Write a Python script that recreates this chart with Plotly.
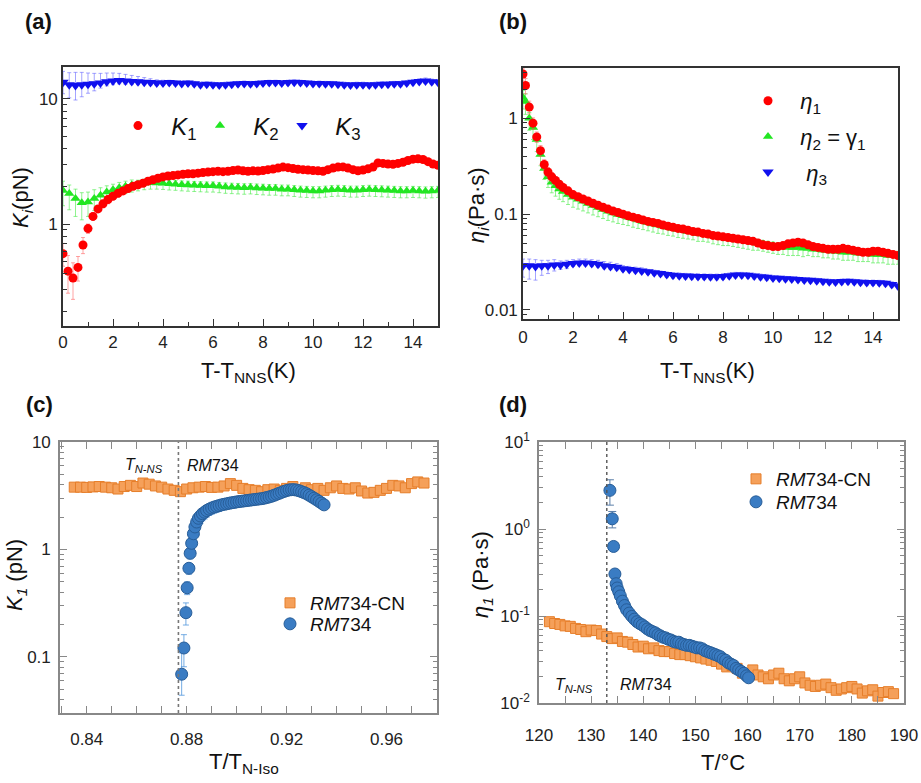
import plotly.graph_objects as go

W, H = 921, 783
FONT = "Liberation Sans, Arial, sans-serif"

# ---------------- Panel (a): elastic constants vs T - T_NNS ----------------
XA1 = [0.0, 0.2, 0.4, 0.6, 0.8, 1.0, 1.2, 1.4, 1.6, 1.8,
       2.0, 2.2, 2.4, 2.6, 2.8, 3.0, 3.2, 3.4, 3.6, 3.8,
       4.0, 4.2, 4.4, 4.6, 4.8, 5.0, 5.2, 5.4, 5.6, 5.8,
       6.0, 6.2, 6.4, 6.6, 6.8, 7.0, 7.2, 7.4, 7.6, 7.8,
       8.0, 8.2, 8.4, 8.6, 8.8, 9.0, 9.2, 9.4, 9.6, 9.8,
       10.0, 10.2, 10.4, 10.6, 10.8, 11.0, 11.2, 11.4, 11.6, 11.8,
       12.0, 12.2, 12.4, 12.6, 12.8, 13.0, 13.2, 13.4, 13.6, 13.8,
       14.0, 14.2, 14.4, 14.6, 14.8, 15.0]
K1 = [0.58, 0.42, 0.37, 0.45, 0.68, 0.92, 1.15, 1.32, 1.45, 1.57,
      1.67, 1.76, 1.84, 1.92, 2.0, 2.06, 2.12, 2.2, 2.26, 2.32,
      2.38, 2.42, 2.44, 2.47, 2.5, 2.52, 2.52, 2.55, 2.58, 2.6,
      2.62, 2.64, 2.62, 2.64, 2.68, 2.7, 2.66, 2.64, 2.66, 2.65,
      2.68, 2.72, 2.75, 2.8, 2.85, 2.82, 2.78, 2.74, 2.72, 2.7,
      2.68, 2.66, 2.64, 2.72, 2.8, 2.85, 2.86, 2.8, 2.72, 2.66,
      2.7, 2.76, 2.85, 3.08, 3.05, 3.02, 3.0, 3.05, 3.12, 3.22,
      3.3, 3.32, 3.28, 3.15, 3.02, 2.95]
K1_ERR = [0.12, 0.14, 0.12, 0.1, 0.1, 0.08, 0.08, 0.08, 0.1, 0.12,
          0.12, 0.12, 0.12, 0.12, 0.12, 0.12, 0.1, 0.1, 0.1, 0.08,
          0.08, 0.08, 0.08, 0.08, 0.08, 0.08, 0.08, 0.08, 0.08, 0.08,
          0.08, 0.08, 0.08, 0.08, 0.08, 0.08, 0.08, 0.08, 0.08, 0.08,
          0.08, 0.08, 0.08, 0.08, 0.08, 0.08, 0.08, 0.08, 0.08, 0.08,
          0.08, 0.08, 0.08, 0.08, 0.08, 0.08, 0.08, 0.08, 0.08, 0.08,
          0.08, 0.08, 0.08, 0.1, 0.1, 0.1, 0.1, 0.1, 0.1, 0.1,
          0.12, 0.12, 0.12, 0.12, 0.12, 0.12]

XQ = [0.0, 0.25, 0.5, 0.75, 1.0, 1.25, 1.5, 1.75, 2.0, 2.25,
      2.5, 2.75, 3.0, 3.25, 3.5, 3.75, 4.0, 4.25, 4.5, 4.75,
      5.0, 5.25, 5.5, 5.75, 6.0, 6.25, 6.5, 6.75, 7.0, 7.25,
      7.5, 7.75, 8.0, 8.25, 8.5, 8.75, 9.0, 9.25, 9.5, 9.75,
      10.0, 10.25, 10.5, 10.75, 11.0, 11.25, 11.5, 11.75, 12.0, 12.25,
      12.5, 12.75, 13.0, 13.25, 13.5, 13.75, 14.0, 14.25, 14.5, 14.75,
      15.0]
K2 = [1.85, 1.75, 1.6, 1.48, 1.5, 1.6, 1.7, 1.8, 1.88, 1.95,
      2.0, 2.05, 2.08, 2.12, 2.14, 2.13, 2.12, 2.1, 2.08, 2.06,
      2.05, 2.04, 2.03, 2.02, 2.02, 2.0, 1.98, 1.97, 1.96, 1.95,
      1.96, 1.94, 1.93, 1.92, 1.92, 1.9, 1.9, 1.88, 1.86, 1.85,
      1.84, 1.84, 1.86, 1.88, 1.89, 1.88, 1.86, 1.86, 1.88, 1.89,
      1.88, 1.87, 1.86, 1.85, 1.84, 1.84, 1.85, 1.84, 1.83, 1.84,
      1.85]
K2_ERR_UP = [0.35, 0.3, 0.3, 0.3, 0.3, 0.28, 0.25, 0.22, 0.2, 0.2,
             0.2, 0.2, 0.16, 0.16, 0.16, 0.16, 0.15, 0.15, 0.15, 0.15,
             0.15, 0.15, 0.15, 0.15, 0.15, 0.15, 0.15, 0.15, 0.15, 0.15,
             0.15, 0.15, 0.15, 0.15, 0.15, 0.15, 0.15, 0.15, 0.15, 0.15,
             0.15, 0.15, 0.15, 0.15, 0.15, 0.15, 0.15, 0.15, 0.15, 0.15,
             0.15, 0.15, 0.15, 0.15, 0.15, 0.15, 0.15, 0.15, 0.15, 0.15,
             0.15]
K2_ERR_DN = [0.45, 0.45, 0.45, 0.4, 0.35, 0.32, 0.3, 0.28, 0.26, 0.25,
             0.25, 0.25, 0.24, 0.24, 0.24, 0.23, 0.23, 0.23, 0.22, 0.22,
             0.22, 0.22, 0.22, 0.22, 0.22, 0.22, 0.22, 0.22, 0.22, 0.22,
             0.22, 0.22, 0.22, 0.22, 0.22, 0.22, 0.22, 0.22, 0.22, 0.22,
             0.22, 0.22, 0.22, 0.22, 0.22, 0.22, 0.22, 0.22, 0.22, 0.22,
             0.22, 0.22, 0.22, 0.22, 0.22, 0.22, 0.22, 0.22, 0.22, 0.22,
             0.22]
K3 = [13.6, 13.0, 12.8, 13.0, 13.1, 13.2, 13.4, 13.7, 13.9, 14.0,
      13.9, 13.8, 13.7, 13.6, 13.5, 13.4, 13.4, 13.5, 13.4, 13.3,
      13.4, 13.2, 13.0, 13.1, 13.0, 12.9, 13.0, 13.1, 13.2, 13.3,
      13.2, 13.3, 13.4, 13.5, 13.5, 13.4, 13.5, 13.6, 13.5, 13.4,
      13.3, 13.3, 13.2, 13.2, 13.1, 13.0, 12.9, 13.0, 13.0, 12.9,
      13.0, 13.1, 13.1, 13.2, 13.2, 13.4, 13.6, 13.8, 13.9, 13.7,
      13.6]
K3_ERR_UP = [3.0, 3.2, 3.5, 3.3, 3.0, 2.8, 2.6, 2.4, 2.2, 2.0,
             1.8, 1.6, 1.4, 1.2, 1.0, 0.8, 0.7, 0.6, 0.6, 0.6,
             0.6, 0.6, 0.6, 0.6, 0.6, 0.6, 0.6, 0.6, 0.6, 0.6,
             0.6, 0.6, 0.6, 0.6, 0.6, 0.6, 0.6, 0.6, 0.6, 0.6,
             0.6, 0.6, 0.6, 0.6, 0.6, 0.6, 0.6, 0.6, 0.6, 0.6,
             0.6, 0.6, 0.6, 0.6, 0.6, 0.6, 0.7, 0.7, 0.8, 0.7,
             0.7]
K3_ERR_DN = [2.6, 2.8, 3.0, 2.6, 2.0, 1.6, 1.2, 1.0, 0.9, 0.8,
             0.8, 0.7, 0.7, 0.6, 0.6, 0.6, 0.6, 0.6, 0.6, 0.6,
             0.6, 0.6, 0.6, 0.6, 0.6, 0.6, 0.6, 0.6, 0.6, 0.6,
             0.6, 0.6, 0.6, 0.6, 0.6, 0.6, 0.6, 0.6, 0.6, 0.6,
             0.6, 0.6, 0.6, 0.6, 0.6, 0.6, 0.6, 0.6, 0.6, 0.6,
             0.6, 0.6, 0.6, 0.6, 0.6, 0.6, 0.6, 0.6, 0.6, 0.6,
             0.6]

# ---------------- Panel (b): viscosities vs T - T_NNS ----------------
XB1 = [0.0, 0.1, 0.25, 0.4, 0.55, 0.7, 0.85, 1.0, 1.15, 1.3,
       1.45, 1.6, 1.8, 2.0, 2.2, 2.4, 2.6, 2.8, 3.0, 3.2,
       3.4, 3.6, 3.8, 4.0, 4.2, 4.4, 4.6, 4.8, 5.0, 5.2,
       5.4, 5.6, 5.8, 6.0, 6.2, 6.4, 6.6, 6.8, 7.0, 7.2,
       7.4, 7.6, 7.8, 8.0, 8.2, 8.4, 8.6, 8.8, 9.0, 9.2,
       9.4, 9.6, 9.8, 10.0, 10.2, 10.4, 10.6, 10.8, 11.0, 11.2,
       11.4, 11.6, 11.8, 12.0, 12.2, 12.4, 12.6, 12.8, 13.0, 13.2,
       13.4, 13.6, 13.8, 14.0, 14.2, 14.4, 14.6, 14.8, 15.0]
ETA1 = [2.9, 2.2, 1.31, 0.89, 0.64, 0.46, 0.33, 0.275, 0.245, 0.225,
        0.205, 0.19, 0.175, 0.16, 0.152, 0.144, 0.137, 0.13, 0.124, 0.118,
        0.113, 0.108, 0.104, 0.1, 0.096, 0.093, 0.09, 0.087, 0.084, 0.082,
        0.08, 0.077, 0.075, 0.073, 0.071, 0.07, 0.068, 0.066, 0.065, 0.063,
        0.062, 0.06, 0.059, 0.058, 0.057, 0.056, 0.055, 0.054, 0.053, 0.052,
        0.05, 0.048, 0.047, 0.046, 0.046, 0.047, 0.049, 0.05, 0.051, 0.05,
        0.048, 0.046, 0.045, 0.044, 0.043, 0.043, 0.043, 0.044, 0.043, 0.042,
        0.041, 0.04, 0.04, 0.041, 0.041, 0.04, 0.039, 0.038, 0.037]
ETA1_ERR = [0.45, 0.4, 0.2, 0.12, 0.08, 0.06, 0.04, 0.03, 0.025, 0.02,
            0.018, 0.016, 0.014, 0.012, 0.011, 0.01, 0.009, 0.008, 0.008, 0.007,
            0.007, 0.006, 0.006, 0.006, 0.005, 0.005, 0.005, 0.005, 0.005, 0.004,
            0.004, 0.004, 0.004, 0.004, 0.004, 0.004, 0.004, 0.004, 0.004, 0.004,
            0.003, 0.003, 0.003, 0.003, 0.003, 0.003, 0.003, 0.003, 0.003, 0.003,
            0.003, 0.003, 0.003, 0.003, 0.003, 0.003, 0.003, 0.003, 0.003, 0.003,
            0.003, 0.003, 0.003, 0.003, 0.003, 0.003, 0.003, 0.003, 0.003, 0.003,
            0.003, 0.003, 0.003, 0.003, 0.003, 0.003, 0.003, 0.003, 0.003]
ETA2 = [1.65, 1.5, 1.0, 0.8, 0.6, 0.42, 0.3, 0.245, 0.215, 0.198,
        0.183, 0.172, 0.16, 0.15, 0.143, 0.136, 0.129, 0.123, 0.117, 0.112,
        0.107, 0.103, 0.099, 0.096, 0.093, 0.09, 0.087, 0.084, 0.082, 0.079,
        0.077, 0.075, 0.073, 0.071, 0.069, 0.068, 0.066, 0.065, 0.063, 0.062,
        0.061, 0.059, 0.058, 0.057, 0.056, 0.055, 0.054, 0.053, 0.052, 0.051,
        0.05, 0.049, 0.048, 0.047, 0.046, 0.046, 0.045, 0.045, 0.045, 0.044,
        0.044, 0.043, 0.043, 0.042, 0.042, 0.041, 0.041, 0.04, 0.04, 0.04,
        0.039, 0.039, 0.039, 0.038, 0.038, 0.038, 0.037, 0.037, 0.037]
ETA2_ERR_UP = [0.3, 0.3, 0.15, 0.1, 0.07, 0.05, 0.035, 0.028, 0.024, 0.021,
               0.019, 0.017, 0.015, 0.013, 0.012, 0.011, 0.01, 0.01, 0.009, 0.009,
               0.008, 0.008, 0.008, 0.007, 0.007, 0.007, 0.006, 0.006, 0.006, 0.006,
               0.006, 0.005, 0.005, 0.005, 0.005, 0.005, 0.005, 0.005, 0.005, 0.005,
               0.005, 0.005, 0.005, 0.004, 0.004, 0.004, 0.004, 0.004, 0.004, 0.004,
               0.004, 0.004, 0.004, 0.004, 0.004, 0.004, 0.004, 0.004, 0.004, 0.004,
               0.004, 0.004, 0.004, 0.004, 0.004, 0.004, 0.004, 0.004, 0.004, 0.004,
               0.004, 0.004, 0.004, 0.004, 0.004, 0.004, 0.004, 0.004, 0.004]
ETA2_ERR_DN = [0.4, 0.4, 0.25, 0.2, 0.15, 0.1, 0.07, 0.055, 0.048, 0.044,
               0.04, 0.037, 0.034, 0.032, 0.03, 0.028, 0.026, 0.025, 0.023, 0.022,
               0.021, 0.02, 0.019, 0.018, 0.017, 0.017, 0.016, 0.015, 0.015, 0.014,
               0.014, 0.013, 0.013, 0.012, 0.012, 0.012, 0.011, 0.011, 0.011, 0.01,
               0.01, 0.01, 0.01, 0.01, 0.009, 0.009, 0.009, 0.009, 0.009, 0.009,
               0.008, 0.008, 0.008, 0.008, 0.008, 0.008, 0.008, 0.008, 0.008, 0.008,
               0.007, 0.007, 0.007, 0.007, 0.007, 0.007, 0.007, 0.007, 0.007, 0.007,
               0.007, 0.007, 0.007, 0.007, 0.007, 0.007, 0.007, 0.007, 0.007]
ETA3 = [0.029, 0.029, 0.0285, 0.029, 0.029, 0.0295, 0.0295, 0.03, 0.0305, 0.031,
        0.031, 0.0305, 0.03, 0.029, 0.0285, 0.028, 0.027, 0.0265, 0.026, 0.0255,
        0.025, 0.0245, 0.024, 0.0235, 0.023, 0.0228, 0.0226, 0.0225, 0.0224, 0.0223,
        0.0222, 0.0222, 0.0224, 0.0228, 0.0232, 0.0232, 0.023, 0.0226, 0.0222, 0.022,
        0.0216, 0.0214, 0.0212, 0.021, 0.0208, 0.0206, 0.0204, 0.0202, 0.0199, 0.0197,
        0.0196, 0.0198, 0.0199, 0.0197, 0.0195, 0.0194, 0.0193, 0.0192, 0.019, 0.0185,
        0.0178]
ETA3_ERR_UP = [0.005, 0.005, 0.005, 0.004, 0.004, 0.004, 0.003, 0.003, 0.003, 0.003,
               0.003, 0.003, 0.003, 0.003, 0.003, 0.0025, 0.002, 0.002, 0.002, 0.002,
               0.0015, 0.0015, 0.0015, 0.0015, 0.0015, 0.0015, 0.0015, 0.0015, 0.0015, 0.0015,
               0.0015, 0.0015, 0.0015, 0.0015, 0.0015, 0.0015, 0.0015, 0.0015, 0.0015, 0.0015,
               0.0012, 0.0012, 0.0012, 0.0012, 0.0012, 0.0012, 0.0012, 0.0012, 0.0012, 0.0012,
               0.0012, 0.0012, 0.0012, 0.0012, 0.0012, 0.0012, 0.0012, 0.0012, 0.0012, 0.0012,
               0.0012]
ETA3_ERR_DN = [0.007, 0.008, 0.008, 0.006, 0.005, 0.004, 0.003, 0.003, 0.002, 0.002,
               0.002, 0.002, 0.002, 0.002, 0.002, 0.0018, 0.0016, 0.0015, 0.0015, 0.0015,
               0.0015, 0.0015, 0.0015, 0.0015, 0.0015, 0.0015, 0.0015, 0.0015, 0.0015, 0.0015,
               0.0015, 0.0015, 0.0015, 0.0015, 0.0015, 0.0015, 0.0015, 0.0015, 0.0015, 0.0015,
               0.0012, 0.0012, 0.0012, 0.0012, 0.0012, 0.0012, 0.0012, 0.0012, 0.0012, 0.0012,
               0.0012, 0.0012, 0.0012, 0.0012, 0.0012, 0.0012, 0.0012, 0.0012, 0.0012, 0.0012,
               0.0012]

# ---------------- Panel (c): K1 vs reduced temperature ----------------
XC_CN = [0.835, 0.8375, 0.84, 0.8425, 0.845, 0.8475, 0.85, 0.8525, 0.855, 0.8575,
         0.86, 0.8625, 0.865, 0.8675, 0.87, 0.8725, 0.875, 0.8775, 0.88, 0.8825,
         0.885, 0.8875, 0.89, 0.8925, 0.895, 0.8975, 0.9, 0.9025, 0.905, 0.9075,
         0.91, 0.9125, 0.915, 0.9175, 0.92, 0.9225, 0.925, 0.9275, 0.93, 0.9325,
         0.935, 0.9375, 0.94, 0.9425, 0.945, 0.9475, 0.95, 0.9525, 0.955, 0.9575,
         0.96, 0.9625, 0.965, 0.9675, 0.97, 0.9725, 0.975]
K1_CN = [3.8, 3.8, 3.78, 3.82, 3.85, 3.8, 3.75, 3.65, 3.85, 3.95,
         3.85, 4.15, 4.05, 3.9, 3.8, 3.65, 3.55, 3.45, 3.65, 3.75,
         3.8, 3.85, 3.78, 3.8, 3.9, 4.1, 3.95, 3.7, 3.6, 3.55,
         3.45, 3.6, 3.65, 3.55, 3.7, 3.85, 3.6, 3.75, 3.6, 3.7,
         3.55, 3.75, 3.9, 3.7, 3.65, 3.75, 3.5, 3.35, 3.4, 3.55,
         3.7, 3.95, 3.9, 3.75, 4.1, 4.25, 4.15]
XC_RM = [0.878, 0.8789, 0.8797, 0.8802, 0.8809, 0.8814, 0.882, 0.8827, 0.8833, 0.884,
         0.8847, 0.8855, 0.8863, 0.8872, 0.888, 0.889, 0.89, 0.891, 0.892, 0.893,
         0.894, 0.895, 0.896, 0.897, 0.898, 0.899, 0.9, 0.901, 0.902, 0.903,
         0.904, 0.905, 0.906, 0.907, 0.908, 0.909, 0.91, 0.911, 0.912, 0.913,
         0.914, 0.915, 0.916, 0.917, 0.918, 0.919, 0.92, 0.921, 0.922, 0.923,
         0.924, 0.925, 0.926, 0.927, 0.928, 0.929, 0.93, 0.931, 0.932, 0.933,
         0.934, 0.935]
K1_RM = [0.069, 0.121, 0.258, 0.44, 0.668, 0.92, 1.14, 1.40, 1.62, 1.8,
         1.95, 2.05, 2.15, 2.22, 2.3, 2.37, 2.43, 2.48, 2.52, 2.56,
         2.6, 2.63, 2.66, 2.69, 2.72, 2.74, 2.77, 2.79, 2.81, 2.83,
         2.85, 2.87, 2.89, 2.91, 2.93, 2.95, 2.97, 3.0, 3.04, 3.08,
         3.13, 3.19, 3.26, 3.33, 3.4, 3.47, 3.53, 3.58, 3.6, 3.6,
         3.57, 3.52, 3.45, 3.38, 3.3, 3.2, 3.1, 3.0, 2.9, 2.8,
         2.7, 2.6]
K1_RM_ERR_UP = [0.04, 0.04, 0.06, 0.06, 0.05, 0.05, 0.05, 0.05, 0.05, 0.05,
                0.05, 0.05, 0.05, 0.05, 0.05, 0.05, 0.05, 0.05, 0.05, 0.05,
                0.05, 0.05, 0.05, 0.05, 0.05, 0.05, 0.05, 0.05, 0.05, 0.05,
                0.05, 0.05, 0.05, 0.05, 0.05, 0.05, 0.05, 0.05, 0.05, 0.05,
                0.05, 0.05, 0.05, 0.05, 0.05, 0.05, 0.05, 0.05, 0.05, 0.05,
                0.05, 0.05, 0.05, 0.05, 0.05, 0.05, 0.05, 0.05, 0.05, 0.05,
                0.05, 0.05]
K1_RM_ERR_DN = [0.025, 0.04, 0.06, 0.06, 0.08, 0.1, 0.15, 0.2, 0.25, 0.3,
                0.3, 0.3, 0.3, 0.3, 0.3, 0.3, 0.3, 0.3, 0.3, 0.3,
                0.25, 0.25, 0.25, 0.25, 0.25, 0.25, 0.25, 0.25, 0.25, 0.25,
                0.25, 0.25, 0.25, 0.25, 0.2, 0.2, 0.2, 0.2, 0.2, 0.15,
                0.15, 0.15, 0.15, 0.15, 0.15, 0.1, 0.1, 0.1, 0.1, 0.1,
                0.1, 0.1, 0.1, 0.1, 0.1, 0.1, 0.1, 0.1, 0.1, 0.1,
                0.1, 0.1]

# ---------------- Panel (d): eta1 vs temperature ----------------
XD_CN = [122, 123, 124, 125, 126, 127, 128, 129, 130, 131,
         132, 133, 134, 135, 136, 137, 138, 139, 140, 141,
         142, 143, 144, 145, 146, 147, 148, 149, 150, 151,
         152, 153, 154, 155, 156, 157, 158, 159, 160, 161,
         162, 163, 164, 165, 166, 167, 168, 169, 170, 171,
         172, 173, 174, 175, 176, 177, 178, 179, 180, 181,
         182, 183, 184, 185, 186, 187, 188]
ETA1_CN = [0.086, 0.082, 0.08, 0.077, 0.076, 0.072, 0.07, 0.066, 0.069, 0.068,
           0.062, 0.058, 0.055, 0.056, 0.051, 0.05, 0.047, 0.044, 0.045, 0.042,
           0.043, 0.04, 0.039, 0.039, 0.037, 0.036, 0.036, 0.035, 0.034, 0.033,
           0.032, 0.031, 0.03, 0.028, 0.026, 0.027, 0.025, 0.022, 0.021, 0.024,
           0.021, 0.02, 0.019, 0.021, 0.022, 0.019, 0.018, 0.019, 0.02, 0.017,
           0.016, 0.0155, 0.016, 0.0165, 0.015, 0.014, 0.0145, 0.015, 0.0155, 0.0145,
           0.013, 0.0138, 0.0142, 0.012, 0.0132, 0.0135, 0.0128]
XD_RM = [133.6, 134.05, 134.3, 134.56, 134.8, 135.0, 135.3, 135.6, 136.0, 136.4,
         136.8, 137.3, 137.8, 138.3, 138.8, 139.3, 139.8, 140.3, 140.8, 141.3,
         141.8, 142.3, 142.8, 143.3, 143.8, 144.3, 144.8, 145.3, 145.8, 146.3,
         146.8, 147.3, 147.8, 148.3, 148.8, 149.3, 149.8, 150.3, 150.8, 151.3,
         151.8, 152.3, 152.8, 153.3, 153.8, 154.3, 154.8, 155.3, 155.8, 156.3,
         156.8, 157.3, 157.8, 158.3, 158.8, 159.3, 159.8, 160.2]
ETA1_RM = [2.78, 1.31, 0.63, 0.304, 0.235, 0.21, 0.19, 0.17, 0.148, 0.132,
           0.118, 0.108, 0.099, 0.092, 0.086, 0.082, 0.079, 0.075, 0.071, 0.068,
           0.066, 0.064, 0.061, 0.059, 0.057, 0.056, 0.054, 0.053, 0.051, 0.05,
           0.05, 0.048, 0.047, 0.046, 0.046, 0.045, 0.044, 0.043, 0.043, 0.042,
           0.04, 0.039, 0.038, 0.037, 0.036, 0.035, 0.034, 0.032, 0.031, 0.029,
           0.028, 0.027, 0.025, 0.024, 0.023, 0.022, 0.0205, 0.0195]
ETA1_RM_ERR = [0.9, 0.28, 0.06, 0.02, 0.008, 0.006, 0.005, 0.004, 0.003, 0.003,
               0.002, 0.002, 0.002, 0.002, 0.002, 0.002, 0.002, 0.002, 0.002, 0.002,
               0.002, 0.002, 0.002, 0.002, 0.002, 0.002, 0.002, 0.002, 0.002, 0.002,
               0.002, 0.002, 0.002, 0.002, 0.002, 0.002, 0.002, 0.002, 0.002, 0.002,
               0.001, 0.001, 0.001, 0.001, 0.001, 0.001, 0.001, 0.001, 0.001, 0.001,
               0.001, 0.001, 0.001, 0.001, 0.001, 0.001, 0.001, 0.001]

# tick labels for panel (d)
D_TICKVALS = [0.01, 0.1, 1, 10]
D_TICKTEXT = ["10<sup>-2</sup>", "10<sup>-1</sup>", "10<sup>0</sup>", "10<sup>1</sup>"]

# log-axis minor tick positions (2..9 of each decade)
MINOR_A = [0.2, 0.3, 0.4, 0.5, 0.6, 0.7, 0.8, 0.9, 2, 3, 4, 5, 6, 7, 8, 9]
MINOR_B = [0.009, 0.02, 0.03, 0.04, 0.05, 0.06, 0.07, 0.08, 0.09,
           0.2, 0.3, 0.4, 0.5, 0.6, 0.7, 0.8, 0.9, 2, 3]
MINOR_C = [0.04, 0.05, 0.06, 0.07, 0.08, 0.09, 0.2, 0.3, 0.4, 0.5, 0.6, 0.7, 0.8, 0.9,
           2, 3, 4, 5, 6, 7, 8, 9]
MINOR_D = [0.02, 0.03, 0.04, 0.05, 0.06, 0.07, 0.08, 0.09, 0.2, 0.3, 0.4, 0.5, 0.6, 0.7,
           0.8, 0.9, 2, 3, 4, 5, 6, 7, 8, 9]

# ---------------- styling ----------------
RED, GREEN, BLUE = "#ff0000", "#22e622", "#1010ee"
RED_E, GREEN_E, BLUE_E = "rgba(255,90,90,0.55)", "rgba(70,235,70,0.6)", "rgba(90,90,255,0.55)"
ORANGE, ORANGE_L = "#f5a05a", "#e67e2a"
SBLUE, SBLUE_L = "#3a7cc3", "#275d98"
NB = "\u00a0"

fig = go.Figure()


def err(arr, arrm=None, color="gray", width=2):
    d = dict(type="data", array=arr, color=color, thickness=1, width=width, visible=True)
    if arrm is not None:
        d["symmetric"] = False
        d["arrayminus"] = arrm
    return d


# (a)
fig.add_trace(go.Scatter(x=XQ, y=K2, mode="markers", name=NB * 2 + "<i>K</i><sub>2</sub>",
                         marker=dict(symbol="triangle-up", size=9, color=GREEN),
                         error_y=err(K2_ERR_UP, K2_ERR_DN, GREEN_E),
                         xaxis="x", yaxis="y", legend="legend", legendrank=2))
fig.add_trace(go.Scatter(x=XA1, y=K1, mode="markers", name=NB * 2 + "<i>K</i><sub>1</sub>",
                         marker=dict(symbol="circle", size=9, color=RED),
                         error_y=err(K1_ERR, None, RED_E),
                         xaxis="x", yaxis="y", legend="legend", legendrank=1))
fig.add_trace(go.Scatter(x=XQ, y=K3, mode="markers", name=NB * 2 + "<i>K</i><sub>3</sub>",
                         marker=dict(symbol="triangle-down", size=10, color=BLUE),
                         error_y=err(K3_ERR_UP, K3_ERR_DN, BLUE_E),
                         xaxis="x", yaxis="y", legend="legend", legendrank=3))
# (b)
fig.add_trace(go.Scatter(x=XB1, y=ETA2, mode="markers",
                         name=NB * 2 + "<i>η</i><sub>2</sub> = γ<sub>1</sub>",
                         marker=dict(symbol="triangle-up", size=9, color=GREEN),
                         error_y=err(ETA2_ERR_UP, ETA2_ERR_DN, GREEN_E),
                         xaxis="x2", yaxis="y2", legend="legend2", legendrank=2, legendgroup="e2"))
fig.add_trace(go.Scatter(x=XB1, y=ETA1, mode="markers", name=NB * 2 + "<i>η</i><sub>1</sub>",
                         marker=dict(symbol="circle", size=9, color=RED),
                         error_y=err(ETA1_ERR, None, RED_E),
                         xaxis="x2", yaxis="y2", legend="legend2", legendrank=1, legendgroup="e1"))
fig.add_trace(go.Scatter(x=XQ, y=ETA3, mode="markers", name=NB * 3 + "<i>η</i><sub>3</sub>",
                         marker=dict(symbol="triangle-down", size=10, color=BLUE),
                         error_y=err(ETA3_ERR_UP, ETA3_ERR_DN, BLUE_E),
                         xaxis="x2", yaxis="y2", legend="legend2", legendrank=3, legendgroup="e3"))
# (c)
fig.add_trace(go.Scatter(x=XC_CN, y=K1_CN, mode="markers", name="<i>RM</i>734-CN",
                         marker=dict(symbol="square", size=10, color=ORANGE,
                                     line=dict(color=ORANGE_L, width=1)),
                         xaxis="x3", yaxis="y3", legend="legend3"))
fig.add_trace(go.Scatter(x=XC_RM, y=K1_RM, mode="markers", name="<i>RM</i>734",
                         marker=dict(symbol="circle", size=12, color=SBLUE,
                                     line=dict(color=SBLUE_L, width=1)),
                         error_y=err(K1_RM_ERR_UP, K1_RM_ERR_DN, "rgba(80,150,220,0.8)", 3),
                         xaxis="x3", yaxis="y3", legend="legend5"))
# (d)
fig.add_trace(go.Scatter(x=XD_CN, y=ETA1_CN, mode="markers", name="<i>RM</i>734-CN",
                         marker=dict(symbol="square", size=10, color=ORANGE,
                                     line=dict(color=ORANGE_L, width=1)),
                         xaxis="x4", yaxis="y4", legend="legend4"))
fig.add_trace(go.Scatter(x=XD_RM, y=ETA1_RM, mode="markers", name="<i>RM</i>734",
                         marker=dict(symbol="circle", size=12, color=SBLUE,
                                     line=dict(color=SBLUE_L, width=1)),
                         error_y=err(ETA1_RM_ERR, None, "#5a7ea8", 4),
                         xaxis="x4", yaxis="y4", legend="legend6"))

# empty carrier traces for the minor-tick overlay axes
for xa, ya in [("x", "y5"), ("x2", "y6"), ("x3", "y7"), ("x4", "y8")]:
    fig.add_trace(go.Scatter(x=[], y=[], mode="markers", xaxis=xa, yaxis=ya,
                             showlegend=False, hoverinfo="skip"))


def px_x(p):
    return p / W


def px_y(p):
    return 1 - p / H


TICKF = dict(family=FONT, size=17, color="#222")


def xaxis(dom, rng, dtick, anchor, lc, standoff, tickvals=None, ticktext=None,
          minor_d=None, mirror=True):
    d = dict(domain=dom, range=rng, anchor=anchor, showgrid=False, zeroline=False,
             automargin=False,
             showline=True, linecolor=lc, linewidth=1.6, mirror=mirror,
             ticks="inside", ticklen=7, tickwidth=1.3, tickcolor=lc,
             tickfont=TICKF, ticklabelstandoff=standoff)
    if tickvals is not None:
        d.update(tickmode="array", tickvals=tickvals, ticktext=ticktext)
    else:
        d.update(dtick=dtick, tick0=0)
    if minor_d is not None:
        d["minor"] = dict(tickmode="linear", dtick=minor_d, ticks="inside", ticklen=4,
                          tickcolor=lc, tickwidth=1.2)
    return d


def yaxis(dom, rng, anchor, lc, standoff, mirror=True, tickvals=None, ticktext=None):
    d = dict(domain=dom, range=rng, type="log", anchor=anchor, showgrid=False, zeroline=False,
             automargin=False,
             showline=True, linecolor=lc, linewidth=1.6, mirror=mirror,
             ticks="inside", ticklen=7, tickwidth=1.3, tickcolor=lc,
             tickfont=TICKF, ticklabelstandoff=standoff)
    if tickvals is not None:
        d.update(tickmode="array", tickvals=tickvals, ticktext=ticktext)
    else:
        d.update(tickmode="linear", tick0=0, dtick=1)
    return d


def minor_axis(base, anchor, rng, lc, vals, both):
    return dict(overlaying=base, anchor=anchor, type="log", range=rng, side="left",
                automargin=False, showgrid=False, zeroline=False, showline=False,
                showticklabels=False, ticks="inside", ticklen=4, tickwidth=1.2,
                tickcolor=lc, tickmode="array", tickvals=vals,
                mirror="ticks" if both else False)


DARK = "#333333"
GRAY = "#888888"

RNG_A = [-0.815, 1.255]
RNG_B = [-2.094, 0.525]
RNG_C = [-1.522, 1.0]
RNG_D = [-2, 1]


def leg(x, y, size, **kw):
    d = dict(x=px_x(x), y=px_y(y), xanchor="left", yanchor="middle",
             font=dict(family=FONT, size=size, color="#111"), bgcolor="rgba(0,0,0,0)")
    d.update(kw)
    return d


fig.update_layout(
    template="none",
    width=W, height=H, margin=dict(l=0, r=0, t=0, b=0, autoexpand=False),
    paper_bgcolor="white", plot_bgcolor="white",
    font=dict(family=FONT, color="#111"),
    xaxis=xaxis([px_x(63), px_x(438)], [0, 15], 2, "y", DARK, 0, minor_d=1),
    yaxis=yaxis([px_y(326), px_y(67)], RNG_A, "x", DARK, 0),
    xaxis2=xaxis([px_x(523), px_x(898)], [0, 15], 2, "y2", DARK, 2, minor_d=1),
    yaxis2=yaxis([px_y(319), px_y(68)], RNG_B, "x2", DARK, 0),
    xaxis3=xaxis([px_x(60), px_x(437)], [0.8293, 0.9802], None, "y3", GRAY, 10,
                 tickvals=[0.84, 0.88, 0.92, 0.96], ticktext=["0.84", "0.88", "0.92", "0.96"],
                 minor_d=0.01, mirror="allticks"),
    yaxis3=yaxis([px_y(713), px_y(442)], RNG_C, "x3", GRAY, 4, mirror="allticks"),
    xaxis4=xaxis([px_x(539), px_x(904)], [120, 190], 10, "y4", GRAY, 16, minor_d=5,
                 mirror="allticks"),
    yaxis4=yaxis([px_y(703), px_y(442)], RNG_D, "x4", GRAY, 4, mirror="allticks",
                 tickvals=D_TICKVALS, ticktext=D_TICKTEXT),
    yaxis5=minor_axis("y", "x", RNG_A, DARK, MINOR_A, False),
    yaxis6=minor_axis("y2", "x2", RNG_B, DARK, MINOR_B, False),
    yaxis7=minor_axis("y3", "x3", RNG_C, GRAY, MINOR_C, True),
    yaxis8=minor_axis("y4", "x4", RNG_D, GRAY, MINOR_D, True),
    showlegend=True,
    legend=leg(118, 126, 24, orientation="h", entrywidth=37, traceorder="normal"),
    legend2=dict(x=px_x(748), y=px_y(80), xanchor="left", yanchor="top",
                 font=dict(family=FONT, size=22, color="#111"), bgcolor="rgba(0,0,0,0)",
                 traceorder="grouped", tracegroupgap=4),
    legend3=leg(270, 603, 19),
    legend5=leg(270, 624, 19),
    legend4=leg(736, 479, 19),
    legend6=leg(736, 502, 19),
)

# dotted transition lines
fig.add_shape(type="line", xref="x3", yref="y3 domain", x0=0.8767, x1=0.8767, y0=0, y1=1,
              line=dict(color="#777", width=1.6, dash="dot"))
fig.add_shape(type="line", xref="x4", yref="y4 domain", x0=133.0, x1=133.0, y0=0, y1=1,
              line=dict(color="#555", width=1.4, dash="dot"))


def ann(text, x, y, size, angle=0, bold=False, color="#111"):
    fig.add_annotation(text=f"<b>{text}</b>" if bold else text, xref="paper", yref="paper",
                       x=px_x(x), y=px_y(y), xanchor="center", yanchor="middle",
                       showarrow=False, textangle=angle,
                       font=dict(family=FONT, size=size, color=color))


# panel labels
ann("(a)", 38, 21, 22, bold=True)
ann("(b)", 513, 21, 22, bold=True)
ann("(c)", 39, 404, 22, bold=True)
ann("(d)", 513, 404, 22, bold=True)

# axis titles
ann("T-T<sub>NNS</sub>(K)", 248, 372, 22)
ann("T-T<sub>NNS</sub>(K)", 707, 372, 22)
ann("T/T<sub>N-Iso</sub>", 244, 763, 22)
ann("T/°C", 723, 762, 22)
ann("<i>K<sub>i</sub></i>(pN)", 22, 198, 22, angle=-90)
ann("<i>η<sub>i</sub></i>(Pa·s)", 478, 205, 22, angle=-90)
ann("<i>K<sub>1</sub></i> (pN)", 16, 575, 22, angle=-90)
ann("<i>η<sub>1</sub></i> (Pa·s)", 482, 575, 22, angle=-90)

# in-plot labels
ann("<i>T<sub>N-NS</sub></i>", 144, 466, 16)
ann("<i>RM</i>734", 213, 465, 16)
ann("<i>T<sub>N-NS</sub></i>", 574, 685, 16)
ann("<i>RM</i>734", 646, 684, 16)

fig.write_html("out.html")
